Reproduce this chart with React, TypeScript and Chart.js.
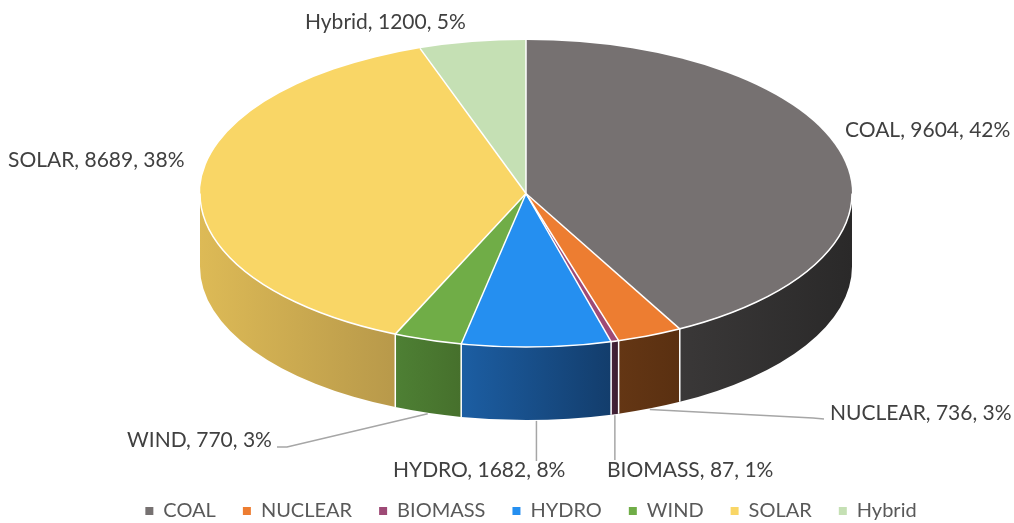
import React, { useEffect, useRef } from "react";
import { Chart, registerables } from "chart.js";

Chart.register(...registerables);

// ---- data ----
const categories = ["COAL", "NUCLEAR", "BIOMASS", "HYDRO", "WIND", "SOLAR", "Hybrid"];
const values = [9604, 736, 87, 1682, 770, 8689, 1200];
const percentLabels = [42, 3, 1, 8, 3, 38, 5];

// ---- styles ----
const topColors = ["#767171", "#ED7D31", "#9E4A76", "#258FF0", "#70AD47", "#F9D666", "#C5E0B4"];
const wallLeft = ["#3A3838", "#643614", "#47233A", "#1C5EA3", "#4E8034", "#DDBA56", "#93AD86"];
const wallRight = ["#2A2929", "#5A3011", "#3A1C2E", "#133D6C", "#46702C", "#B8994A", "#7C9371"];

const CX = 526;
const CY = 193.5;
const RX = 326;
const RY = 153.5;
const DEPTH = 73;
const FONT = "Lato, 'Open Sans', sans-serif";

// label placement (text left x, middle y) and leader-line elbows
const labelStyle: { x: number; y: number; leader?: number[][] }[] = [
  { x: 845, y: 130 },
  { x: 830, y: 413, leader: [[813, 418], [824, 419]] },
  { x: 607, y: 470, leader: [[0, 460]] },
  { x: 393, y: 470, leader: [[0, 461]] },
  { x: 127, y: 440, leader: [[287, 447], [277, 447]] },
  { x: 8, y: 160 },
  { x: 305, y: 22 },
];

const rim = (a: number, dy = 0) => [CX + RX * Math.cos(a), CY + RY * Math.sin(a) + dy];

const pie3d = {
  id: "pie3d",
  beforeDatasetsDraw(chart: any) {
    const ctx = chart.ctx as CanvasRenderingContext2D;
    const meta = chart.getDatasetMeta(0);
    // side walls (front half only)
    meta.data.forEach((arc: any, i: number) => {
      const s = arc.startAngle;
      const e = arc.endAngle;
      const a = Math.max(s, 0);
      const b = Math.min(e, Math.PI);
      if (b <= a) return;
      const [xa] = rim(a);
      const [xb] = rim(b);
      const minX = b >= Math.PI ? CX - RX : Math.min(xa, xb);
      const maxX = a <= 0 ? CX + RX : Math.max(xa, xb);
      const g = ctx.createLinearGradient(minX, 0, maxX, 0);
      g.addColorStop(0, wallLeft[i]);
      g.addColorStop(1, wallRight[i]);
      ctx.save();
      ctx.beginPath();
      ctx.ellipse(CX, CY, RX, RY, 0, a, b, false);
      const [bx, by] = rim(b, DEPTH);
      ctx.lineTo(bx, by);
      ctx.ellipse(CX, CY + DEPTH, RX, RY, 0, b, a, true);
      ctx.closePath();
      ctx.fillStyle = g;
      ctx.fill();
      ctx.restore();
    });
    // white vertical edges between walls
    ctx.save();
    ctx.strokeStyle = "#FFFFFF";
    ctx.lineWidth = 1.5;
    meta.data.forEach((arc: any) => {
      const t = arc.endAngle;
      if (t > 0 && t < Math.PI) {
        const [x1, y1] = rim(t);
        const [x2, y2] = rim(t, DEPTH);
        ctx.beginPath();
        ctx.moveTo(x1, y1);
        ctx.lineTo(x2, y2);
        ctx.stroke();
      }
    });
    ctx.restore();

    // squash the library's pie into the top face ellipse
    const a0 = meta.data[0];
    ctx.save();
    ctx.translate(CX, CY);
    ctx.scale(RX / a0.outerRadius, RY / a0.outerRadius);
    ctx.translate(-a0.x, -a0.y);
  },
  afterDatasetsDraw(chart: any) {
    const ctx = chart.ctx as CanvasRenderingContext2D;
    ctx.restore();
    const meta = chart.getDatasetMeta(0);
    // separators on the top face
    ctx.save();
    ctx.strokeStyle = "#FFFFFF";
    ctx.lineWidth = 1.5;
    meta.data.forEach((arc: any) => {
      const [x, y] = rim(arc.startAngle);
      ctx.beginPath();
      ctx.moveTo(CX, CY);
      ctx.lineTo(x, y);
      ctx.stroke();
    });
    ctx.beginPath();
    ctx.ellipse(CX, CY, RX, RY, 0, 0, Math.PI, false);
    ctx.stroke();
    ctx.restore();

    // data labels with leader lines
    ctx.save();
    ctx.font = `21px ${FONT}`;
    ctx.fillStyle = "#404040";
    ctx.textBaseline = "middle";
    ctx.textAlign = "left";
    meta.data.forEach((arc: any, i: number) => {
      const st = labelStyle[i];
      if (st.leader) {
        const mid = (arc.startAngle + arc.endAngle) / 2;
        const [sx, sy] = rim(mid, DEPTH + 1);
        ctx.strokeStyle = "#A6A6A6";
        ctx.lineWidth = 1.5;
        ctx.beginPath();
        ctx.moveTo(sx, sy);
        st.leader.forEach(([lx, ly]) => ctx.lineTo(lx === 0 ? sx : lx, ly));
        ctx.stroke();
      }
      ctx.fillText(`${categories[i]}, ${values[i]}, ${percentLabels[i]}%`, st.x, st.y);
    });
    ctx.restore();
  },
};

export default function App() {
  const ref = useRef<HTMLCanvasElement | null>(null);
  useEffect(() => {
    if (!ref.current) return;
    const chart = new Chart(ref.current, {
      type: "pie",
      data: {
        labels: categories,
        datasets: [
          {
            data: values,
            backgroundColor: topColors,
            borderWidth: 0,
          },
        ],
      },
      options: {
        responsive: false,
        animation: false,
        events: [],
        layout: { padding: { left: 48, right: 0, top: 0, bottom: 0 } },
        plugins: {
          tooltip: { enabled: false },
          legend: {
            position: "bottom",
            labels: {
              color: "#595959",
              font: { family: FONT, size: 20 },
              boxWidth: 8,
              boxHeight: 8,
              padding: 27,
            },
          },
        },
      },
      plugins: [pie3d],
    });
    if ((document as any).fonts) {
      (document as any).fonts.load(`20px Lato`).then(() => chart.update()).catch(() => {});
    }
    return () => chart.destroy();
  }, []);
  return (
    <div style={{ position: "fixed", left: 0, top: 0, width: 1014, height: 523, overflow: "hidden", background: "#fff" }}>
      <canvas ref={ref} width={1014} height={531} style={{ width: 1014, height: 531, display: "block" }} />
    </div>
  );
}
